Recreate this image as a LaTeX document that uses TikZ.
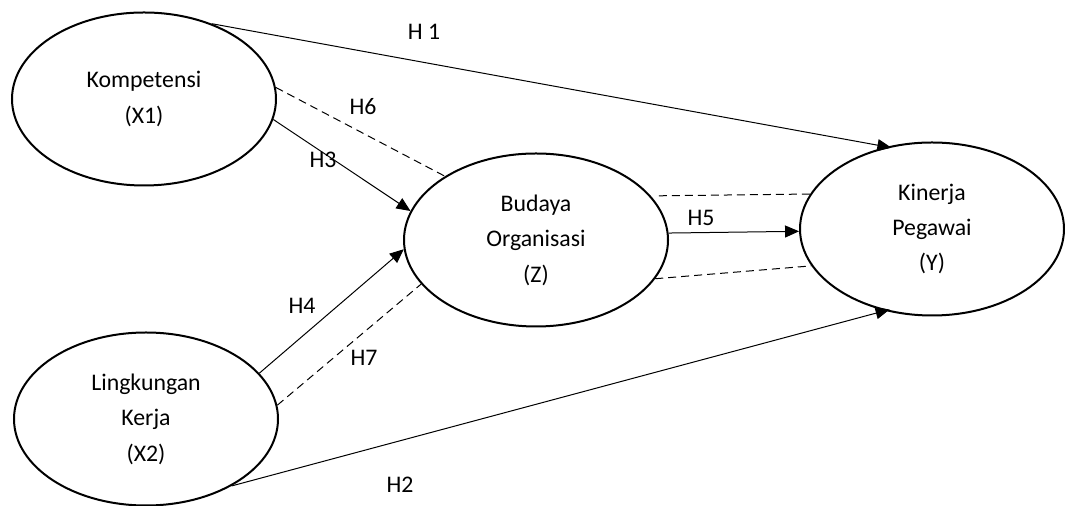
\documentclass[tikz,border=0pt]{standalone}
\usepackage{fontspec}
\setmainfont{Carlito}
\usetikzlibrary{shapes.geometric,arrows.meta}
\tikzset{
  var/.style={ellipse, draw, line width=1pt, minimum width=132pt, minimum height=86.5pt,
    align=center, inner sep=0pt, font=\fontsize{11.9}{17.7}\selectfont},
  hyp/.style={->, line width=0.5pt},
  link/.style={line width=0.5pt, dash pattern=on 4pt off 2.5pt},
  lbl/.style={font=\fontsize{11.9}{14}\selectfont, inner sep=0pt}
}
\begin{document}
\begin{tikzpicture}[x=0.5pt, y=-0.5pt, >={Triangle[length=7pt,width=6pt]}]
    \useasboundingbox (0,0) rectangle (1065,506);
    % variables
    \node[var] (kom) at (144,99) {Kompetensi\\(X1)};
    \node[var] (lk) at (146,419) {Lingkungan\\Kerja\\(X2)};
    \node[var] (bud) at (536,240) {Budaya\\Organisasi\\(Z)};
    \node[var] (kin) at (932,229) {Kinerja\\Pegawai\\(Y)};
    % direct paths
    \draw[hyp, shorten >=-2.5pt] (kom.48) -- (kin.119);
    \draw[hyp, shorten >=-2.5pt] (lk.-38) -- (kin.240);
    \draw[hyp] (kom.-9) -- (bud.167);
    \draw[hyp] (lk.22) -- (bud.184);
    \draw[hyp] (bud.3) -- (kin.181);
    % mediation
    \draw[link] (kom.5) -- (bud.145);
    \draw[link] (lk.6) -- (bud.201);
    \draw[link, shorten <=4pt] (bud.21) -- (kin.164);
    \draw[link] (bud.-18) -- (kin.197);
    % labels
    \node[lbl] (h1) at (424,32) {H 1};
    \node[lbl] (h2) at (400,485) {H2};
    \node[lbl] (h3) at (323,160) {H3};
    \node[lbl] (h4) at (302,306) {H4};
    \node[lbl] (h5) at (701,218) {H5};
    \node[lbl] (h6) at (363,107) {H6};
    \node[lbl] (h7) at (364,358) {H7};
\end{tikzpicture}
\end{document}
